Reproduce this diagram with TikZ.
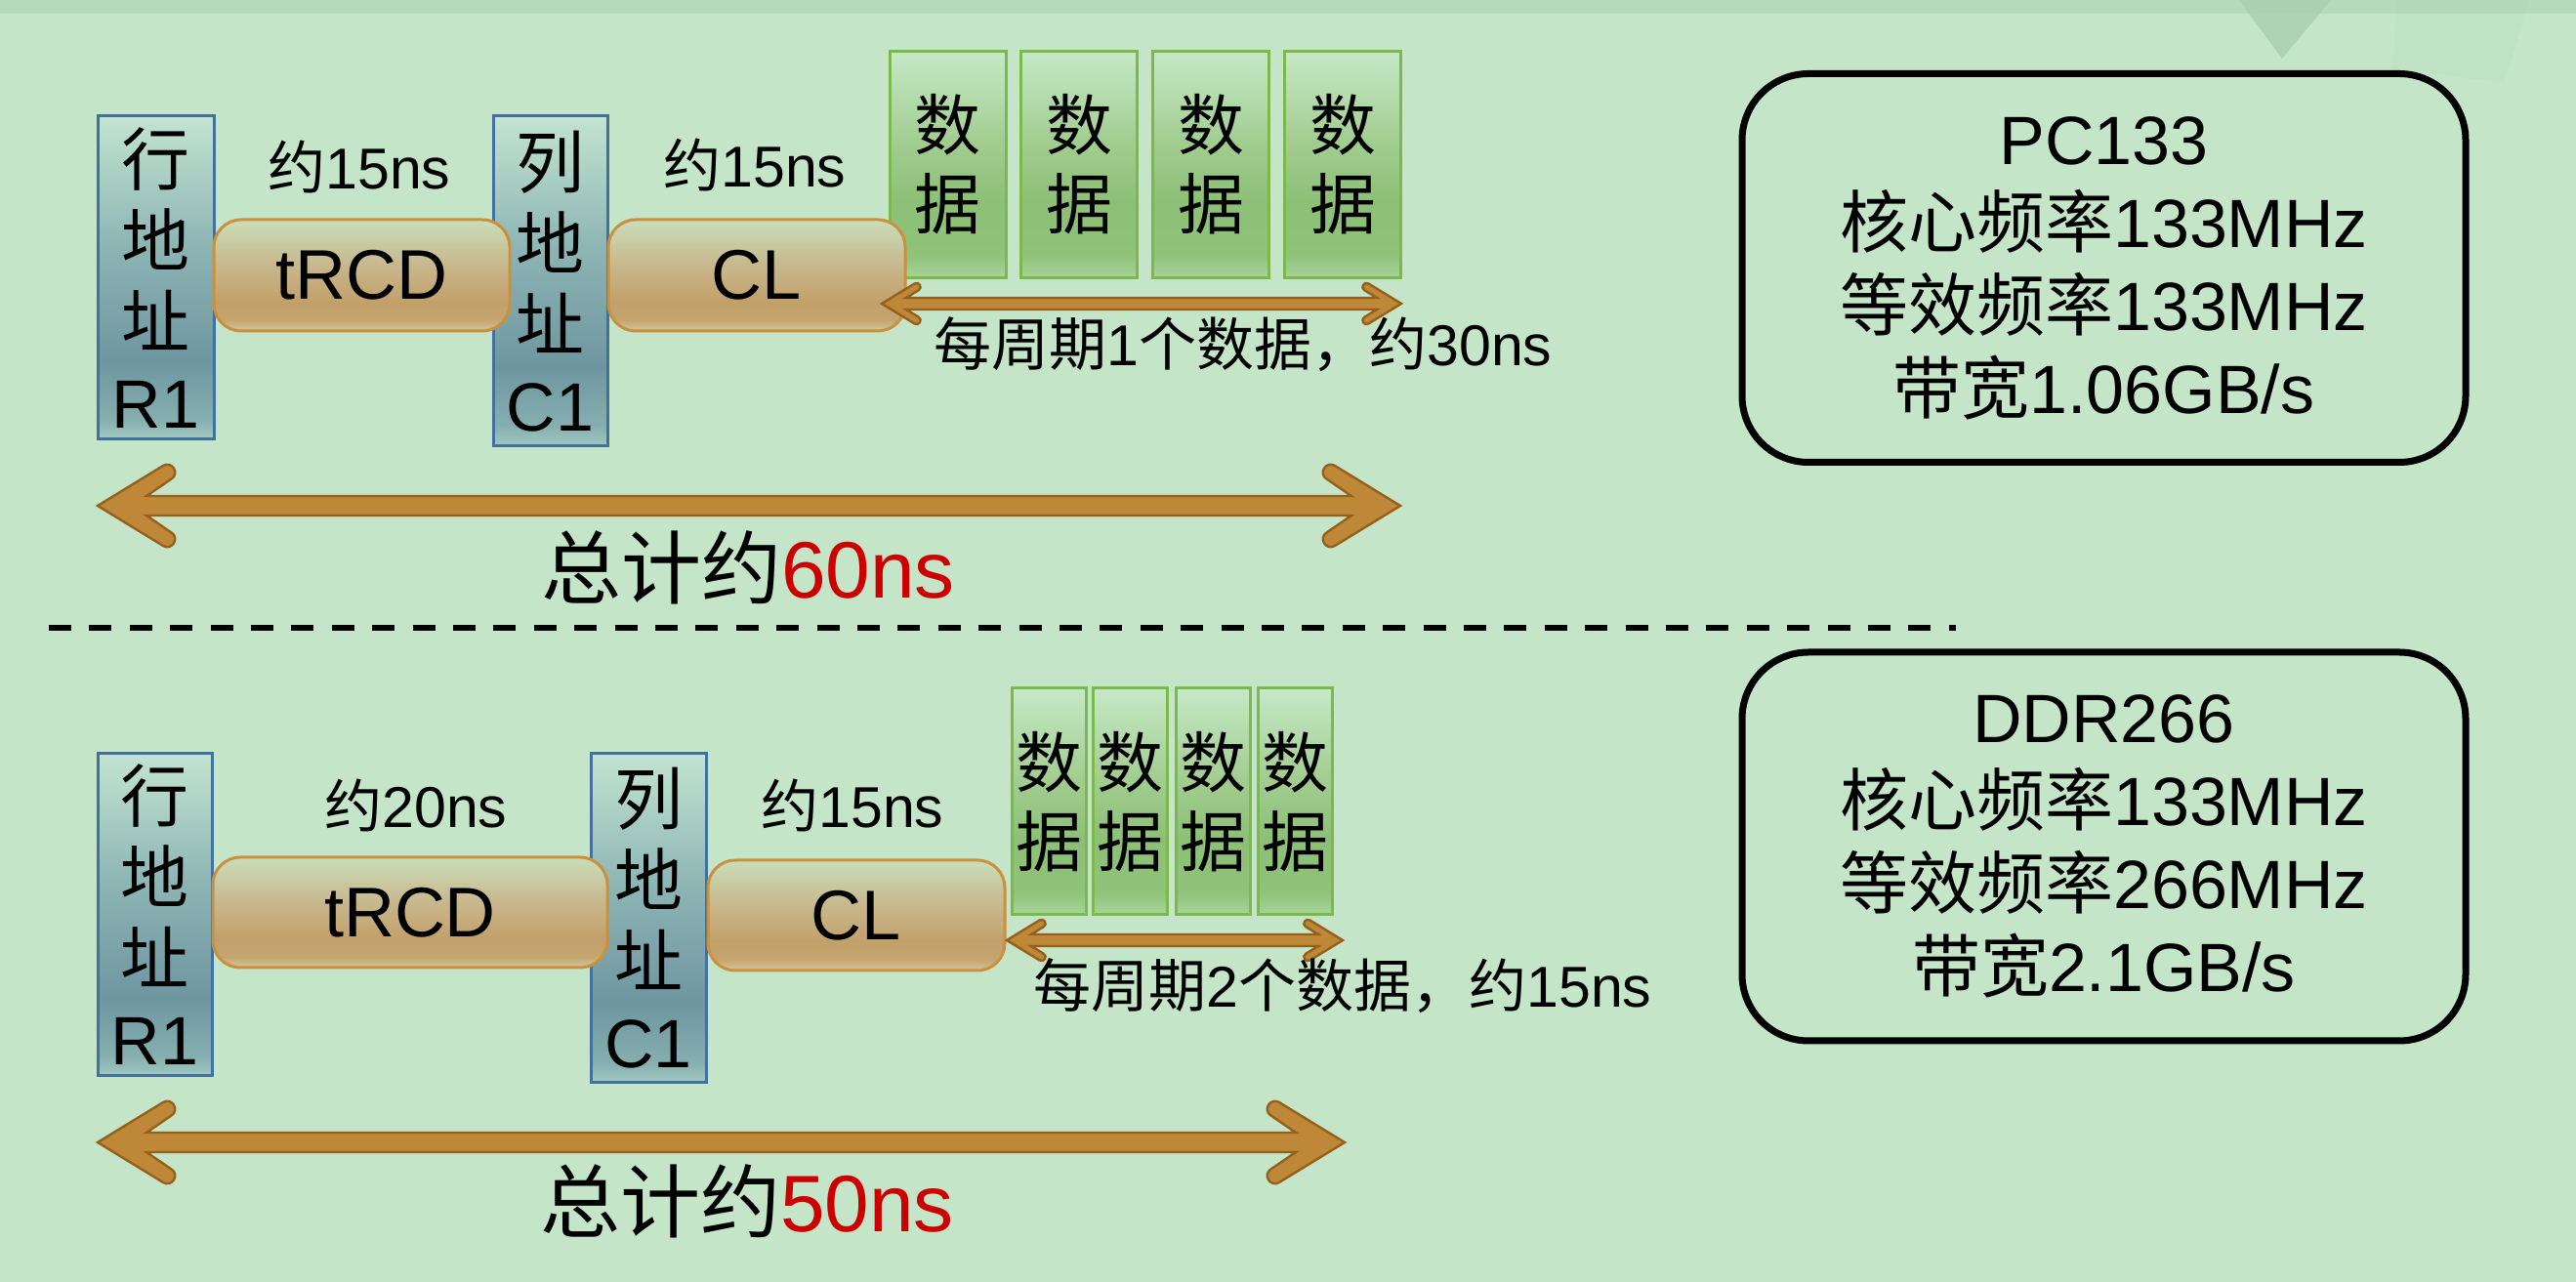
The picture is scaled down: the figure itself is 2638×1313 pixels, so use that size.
\documentclass[tikz,border=0pt]{standalone}
\usepackage{fontspec}
\setmainfont{Liberation Sans}
\newfontfamily\cjk{Noto Sans CJK SC}
\newcommand\zh[1]{{\cjk #1}}
\usetikzlibrary{calc}
\definecolor{bg}{HTML}{C4E5C7}
\definecolor{topband}{HTML}{B7D9BB}
\definecolor{wmark}{HTML}{AACDB2}
\definecolor{addrline}{HTML}{41719C}
\definecolor{addrA}{HTML}{A2C9C1}
\definecolor{addrB}{HTML}{86AFB0}
\definecolor{addrC}{HTML}{6E96A0}
\definecolor{addrD}{HTML}{8DB5B4}
\definecolor{addrE}{HTML}{C2E4D0}
\definecolor{timeline}{HTML}{C9913E}
\definecolor{timeA}{HTML}{D3C79C}
\definecolor{timeB}{HTML}{C4A56E}
\definecolor{timeC}{HTML}{C2A06A}
\definecolor{timeD}{HTML}{C8B88E}
\definecolor{timeE}{HTML}{C9DEB9}
\definecolor{dataline}{HTML}{7DB84A}
\definecolor{dataA}{HTML}{A8D49A}
\definecolor{dataB}{HTML}{90C27A}
\definecolor{dataC}{HTML}{8DC077}
\definecolor{dataD}{HTML}{A2CD90}
\definecolor{dataE}{HTML}{C5E9C7}
\definecolor{arrowfill}{HTML}{BF8838}
\definecolor{arrowline}{HTML}{94601C}
\definecolor{totred}{HTML}{CC0000}
\pgfdeclareverticalshading{addrshade}{100bp}{color(0bp)=(addrA); color(25bp)=(addrA); color(28bp)=(addrB); color(37bp)=(addrC); color(55bp)=(addrD); color(75bp)=(addrE); color(100bp)=(addrE)}
\pgfdeclareverticalshading{timeshade}{100bp}{color(0bp)=(timeA); color(25bp)=(timeA); color(30bp)=(timeB); color(38bp)=(timeC); color(55bp)=(timeD); color(75bp)=(timeE); color(100bp)=(timeE)}
\pgfdeclareverticalshading{datashade}{100bp}{color(0bp)=(dataA); color(25bp)=(dataA); color(30bp)=(dataB); color(42bp)=(dataC); color(55bp)=(dataD); color(75bp)=(dataE); color(100bp)=(dataE)}
\tikzset{
  addrbox/.style={draw=addrline, line width=0.75pt, shading=addrshade, inner sep=0pt, align=center,
    font=\fontsize{17.5}{20.75}\selectfont},
  timebox/.style={draw=timeline, line width=0.75pt, shading=timeshade, rounded corners=7pt, inner sep=0pt,
    font=\fontsize{18}{21}\selectfont},
  databox/.style={draw=dataline, line width=0.75pt, shading=datashade, inner sep=0pt, align=center,
    font=\fontsize{17}{20.25}\selectfont, minimum height=58pt},
  infobox/.style={draw=black, line width=1.75pt, rounded corners=17pt, inner sep=0pt, align=center,
    minimum width=185.25pt, minimum height=99.5pt, font=\fontsize{17.5}{21.25}\selectfont},
  lbl/.style={inner sep=0pt, font=\fontsize{14.75}{17}\selectfont},
  totlbl/.style={inner sep=0pt, font=\fontsize{20.5}{24}\selectfont},
  arrowstyle/.style={fill=arrowfill, draw=arrowline, line width=0.6pt, line join=miter},
  sepline/.style={line width=1.5pt, dash pattern=on 5.75pt off 4.6pt}
}
\newcommand\dblarrow[4]{%
\filldraw[arrowstyle] (#1) -- ($(#1)+(67*#3,-41*#3)$) .. controls ($(#1)+(76*#3,-46.5*#3)$) and ($(#1)+(84.5*#3,-33*#3)$) .. ($(#1)+(75.4*#3,-27.4*#3)$) -- ($(#1)+(50*#3,-#4)$) -- ($(#2)+(-50*#3,-#4)$) -- ($(#2)+(-75.4*#3,-27.4*#3)$) .. controls ($(#2)+(-84.5*#3,-33*#3)$) and ($(#2)+(-76*#3,-46.5*#3)$) .. ($(#2)+(-67*#3,-41*#3)$) -- (#2) -- ($(#2)+(-67*#3,41*#3)$) .. controls ($(#2)+(-76*#3,46.5*#3)$) and ($(#2)+(-84.5*#3,33*#3)$) .. ($(#2)+(-75.4*#3,27.4*#3)$) -- ($(#2)+(-50*#3,#4)$) -- ($(#1)+(50*#3,#4)$) -- ($(#1)+(75.4*#3,27.4*#3)$) .. controls ($(#1)+(84.5*#3,33*#3)$) and ($(#1)+(76*#3,46.5*#3)$) .. ($(#1)+(67*#3,41*#3)$) -- cycle;}
\begin{document}
\begin{tikzpicture}[x=0.25pt, y=-0.25pt]
\useasboundingbox (0,0) rectangle (2638,1313);
% background
\fill[bg] (0,0) rectangle (2638,1313);
\fill[topband] (0,0) rectangle (2638,14);
\fill[wmark, opacity=0.8] (2293,0) -- (2387,0) -- (2337,60) -- cycle;
\fill[wmark, opacity=0.12] (2455,0) -- (2590,0) -- (2565,85) -- (2450,70) -- cycle;

% ===== top section (PC133) =====
\node[addrbox, minimum width=29.75pt, minimum height=82.75pt] (ra) at (159.5,284.5) {\zh{行}\\\zh{地}\\\zh{址}\\R1};
\node[addrbox, minimum width=29.25pt, minimum height=84.5pt] (ca) at (563.5,288) {\zh{列}\\\zh{地}\\\zh{址}\\C1};
\node[databox, minimum width=29.75pt] (da1) at (970.5,168.5) {\zh{数}\\\zh{据}};
\node[databox, minimum width=29.75pt] (da2) at (1105,168.5) {\zh{数}\\\zh{据}};
\node[databox, minimum width=29.75pt] (da3) at (1240,168.5) {\zh{数}\\\zh{据}};
\node[databox, minimum width=29.75pt] (da4) at (1375,168.5) {\zh{数}\\\zh{据}};
\node[timebox, minimum width=75.75pt, minimum height=28.5pt] (trcda) at (370.5,282) {tRCD};
\node[timebox, minimum width=76pt, minimum height=28.5pt] (cla) at (775,282) {CL};
\node[lbl] (lta) at (368,171) {\zh{约}15ns};
\node[lbl] (lca) at (773,169) {\zh{约}15ns};
\coordinate (sal) at (903,311);
\coordinate (sar) at (1435,311);
\dblarrow{sal}{sar}{0.5}{6}
\node[lbl] (lda) at (1273,353) {\zh{每周期}1\zh{个数据，约}30ns};
\coordinate (bal) at (100,518);
\coordinate (bar) at (1434,518);
\dblarrow{bal}{bar}{1}{10}
\node[totlbl] (tota) at (766,581) {\zh{总计约}\textcolor{totred}{60ns}};
\node[infobox] (pc) at (2154.5,274.5) {PC133\\\zh{核心频率}133MHz\\\zh{等效频率}133MHz\\\zh{带宽}1.06GB/s};

% separator
\coordinate (sepl) at (50,643);
\coordinate (sepr) at (2003,643);
\draw[sepline] (sepl) -- (sepr);

% ===== bottom section (DDR266) =====
\node[addrbox, minimum width=29.25pt, minimum height=82.5pt] (rb) at (158.5,937) {\zh{行}\\\zh{地}\\\zh{址}\\R1};
\node[addrbox, minimum width=29.5pt, minimum height=84.25pt] (cb) at (664,940.5) {\zh{列}\\\zh{地}\\\zh{址}\\C1};
\node[databox, minimum width=19pt] (db1) at (1074,821) {\zh{数}\\\zh{据}};
\node[databox, minimum width=19pt] (db2) at (1157.5,821) {\zh{数}\\\zh{据}};
\node[databox, minimum width=19pt] (db3) at (1242,821) {\zh{数}\\\zh{据}};
\node[databox, minimum width=19pt] (db4) at (1326,821) {\zh{数}\\\zh{据}};
\node[timebox, minimum width=101pt, minimum height=28.25pt] (trcdb) at (420,934.5) {tRCD};
\node[timebox, minimum width=76pt, minimum height=28.25pt] (clb) at (877,937.5) {CL};
\node[lbl] (ltb) at (426,825) {\zh{约}20ns};
\node[lbl] (lcb) at (873,825) {\zh{约}15ns};
\coordinate (sbl) at (1031,963);
\coordinate (sbr) at (1375,963);
\dblarrow{sbl}{sbr}{0.5}{6}
\node[lbl] (ldb) at (1375,1010) {\zh{每周期}2\zh{个数据，约}15ns};
\coordinate (bbl) at (100,1170);
\coordinate (bbr) at (1377,1170);
\dblarrow{bbl}{bbr}{1}{10}
\node[totlbl] (totb) at (765,1230) {\zh{总计约}\textcolor{totred}{50ns}};
\node[infobox] (ddr) at (2154.5,867) {DDR266\\\zh{核心频率}133MHz\\\zh{等效频率}266MHz\\\zh{带宽}2.1GB/s};
\end{tikzpicture}
\end{document}
